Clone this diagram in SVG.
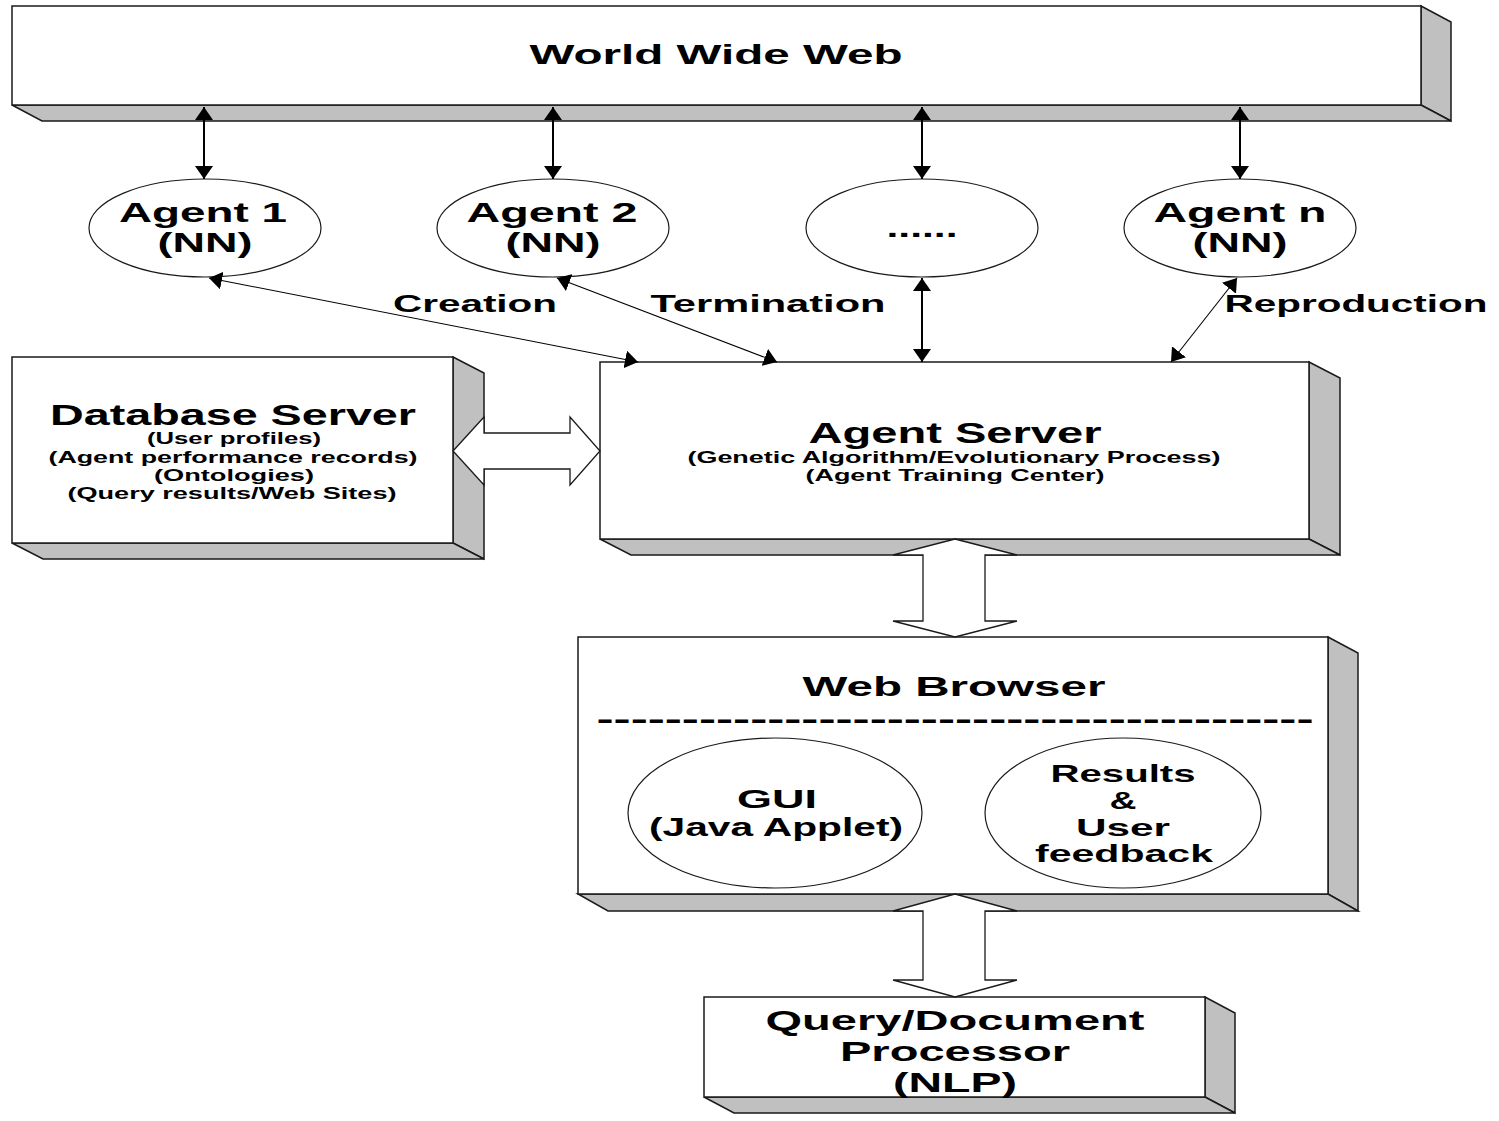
<svg xmlns="http://www.w3.org/2000/svg" width="1499" height="1121" viewBox="0 0 1499 1121">
  <defs>
    <style>
      .face { fill: #ffffff; stroke: #1a1a1a; stroke-width: 1.5; }
      .side { fill: #c0c0c0; stroke: #1a1a1a; stroke-width: 1.5; stroke-linejoin: miter; }
      .oval { fill: #ffffff; stroke: #1a1a1a; stroke-width: 1.2; }
      .hollow { fill: #ffffff; stroke: #1a1a1a; stroke-width: 1.3; stroke-linejoin: miter; }
      .link { fill: none; stroke: #000000; marker-start: url(#head); marker-end: url(#head); }
      .thick { stroke-width: 2; }
      .thin { stroke-width: 1.1; }
      text { font-family: "Liberation Sans", Arial, sans-serif; font-weight: bold; fill: #000000; text-anchor: middle; }
      .t30 { font-size: 30px; }
      .t28 { font-size: 28px; }
      .t26 { font-size: 26px; }
      .t24 { font-size: 24px; }
      .t16 { font-size: 16px; }
    </style>
    <marker id="head" viewBox="0 0 13 18" refX="13" refY="9" markerWidth="13" markerHeight="18" markerUnits="userSpaceOnUse" orient="auto-start-reverse">
      <path d="M0,0 L13,9 L0,18 Z" fill="#000000"/>
    </marker>
  </defs>

  <!-- World Wide Web -->
  <g id="www">
    <polygon class="side" points="1421,6 1451,22 1451,121 1421,105"/>
    <polygon class="side" points="12,105 1421,105 1451,121 42,121"/>
    <rect class="face" x="12" y="6" width="1409" height="99"/>
    <text class="t28" x="716" y="64" textLength="373" lengthAdjust="spacingAndGlyphs">World Wide Web</text>
  </g>

  <!-- Agents -->
  <g id="agent1">
    <ellipse class="oval" cx="205" cy="228" rx="116" ry="49"/>
    <text class="t28" x="203" y="222" textLength="168" lengthAdjust="spacingAndGlyphs">Agent 1</text>
    <text class="t28" x="205" y="252" textLength="95" lengthAdjust="spacingAndGlyphs">(NN)</text>
  </g>
  <g id="agent2">
    <ellipse class="oval" cx="553" cy="228" rx="116" ry="49"/>
    <text class="t28" x="552" y="222" textLength="171" lengthAdjust="spacingAndGlyphs">Agent 2</text>
    <text class="t28" x="553" y="252" textLength="95" lengthAdjust="spacingAndGlyphs">(NN)</text>
  </g>
  <g id="agent-more">
    <ellipse class="oval" cx="922" cy="228" rx="116" ry="49"/>
    <text class="t28" x="922" y="237" textLength="71" lengthAdjust="spacingAndGlyphs">......</text>
  </g>
  <g id="agentn">
    <ellipse class="oval" cx="1240" cy="228" rx="116" ry="49"/>
    <text class="t28" x="1240" y="222" textLength="173" lengthAdjust="spacingAndGlyphs">Agent n</text>
    <text class="t28" x="1240" y="252" textLength="95" lengthAdjust="spacingAndGlyphs">(NN)</text>
  </g>

  <!-- Database Server -->
  <g id="database">
    <polygon class="side" points="453,357 484,373 484,559 453,543"/>
    <polygon class="side" points="12,543 453,543 484,559 43,559"/>
    <rect class="face" x="12" y="357" width="441" height="186"/>
    <text class="t30" x="233" y="425" textLength="366" lengthAdjust="spacingAndGlyphs">Database Server</text>
    <text class="t16" x="234" y="444" textLength="174" lengthAdjust="spacingAndGlyphs">(User profiles)</text>
    <text class="t16" x="233" y="463" textLength="369" lengthAdjust="spacingAndGlyphs">(Agent performance records)</text>
    <text class="t16" x="234" y="481" textLength="160" lengthAdjust="spacingAndGlyphs">(Ontologies)</text>
    <text class="t16" x="232" y="499" textLength="329" lengthAdjust="spacingAndGlyphs">(Query results/Web Sites)</text>
  </g>

  <!-- Agent Server -->
  <g id="agent-server">
    <polygon class="side" points="1309,362 1340,378 1340,555 1309,539"/>
    <polygon class="side" points="600,539 1309,539 1340,555 631,555"/>
    <rect class="face" x="600" y="362" width="709" height="177"/>
    <text class="t30" x="955" y="443" textLength="293" lengthAdjust="spacingAndGlyphs">Agent Server</text>
    <text class="t16" x="954" y="463" textLength="533" lengthAdjust="spacingAndGlyphs">(Genetic Algorithm/Evolutionary Process)</text>
    <text class="t16" x="955" y="481" textLength="299" lengthAdjust="spacingAndGlyphs">(Agent Training Center)</text>
  </g>

  <!-- Web Browser -->
  <g id="web-browser">
    <polygon class="side" points="1328,637 1358,653 1358,911 1328,894"/>
    <polygon class="side" points="578,894 1328,894 1358,911 608,911"/>
    <rect class="face" x="578" y="637" width="750" height="257"/>
    <text class="t28" x="954" y="696" textLength="303" lengthAdjust="spacingAndGlyphs">Web Browser</text>
    <text class="t30" x="955" y="729" textLength="717" lengthAdjust="spacingAndGlyphs">------------------------------------------</text>
  </g>
  <g id="gui">
    <ellipse class="oval" cx="775" cy="813" rx="147" ry="75"/>
    <text class="t26" x="777" y="808" textLength="80" lengthAdjust="spacingAndGlyphs">GUI</text>
    <text class="t26" x="776" y="836" textLength="254" lengthAdjust="spacingAndGlyphs">(Java Applet)</text>
  </g>
  <g id="results">
    <ellipse class="oval" cx="1123" cy="813" rx="138" ry="75"/>
    <text class="t24" x="1123" y="782" textLength="145" lengthAdjust="spacingAndGlyphs">Results</text>
    <text class="t24" x="1123" y="809" textLength="27" lengthAdjust="spacingAndGlyphs">&amp;</text>
    <text class="t24" x="1123" y="836" textLength="94" lengthAdjust="spacingAndGlyphs">User</text>
    <text class="t24" x="1124" y="862" textLength="178" lengthAdjust="spacingAndGlyphs">feedback</text>
  </g>

  <!-- Query/Document Processor -->
  <g id="query-processor">
    <polygon class="side" points="1205,997 1235,1013 1235,1113 1205,1097"/>
    <polygon class="side" points="704,1097 1205,1097 1235,1113 734,1113"/>
    <rect class="face" x="704" y="997" width="501" height="100"/>
    <text class="t28" x="955" y="1030" textLength="379" lengthAdjust="spacingAndGlyphs">Query/Document</text>
    <text class="t28" x="955" y="1061" textLength="230" lengthAdjust="spacingAndGlyphs">Processor</text>
    <text class="t28" x="955" y="1092" textLength="124" lengthAdjust="spacingAndGlyphs">(NLP)</text>
  </g>

  <!-- Connectors -->
  <g id="connectors">
    <line class="link thick" x1="204" y1="107" x2="204" y2="179"/>
    <line class="link thick" x1="553" y1="107" x2="553" y2="179"/>
    <line class="link thick" x1="922" y1="107" x2="922" y2="179"/>
    <line class="link thick" x1="1240" y1="107" x2="1240" y2="179"/>

    <line class="link thin" x1="209" y1="278" x2="638" y2="362"/>
    <line class="link thin" x1="557" y1="278" x2="777" y2="362"/>
    <line class="link thick" x1="922" y1="278" x2="922" y2="362"/>
    <line class="link thin" x1="1237" y1="278" x2="1171" y2="362"/>

    <!-- block arrows -->
    <polygon class="hollow" points="453,451 484,417 484,433 570,433 570,417 600,451 570,485 570,469 484,469 484,485"/>
    <polygon class="hollow" points="955,539 1017,555 985,555 985,621 1017,621 955,637 893,621 923,621 923,555 893,555"/>
    <polygon class="hollow" points="955,894 1017,911 985,911 985,980 1017,980 955,997 893,980 923,980 923,911 893,911"/>

    <text class="t24" x="475" y="312" textLength="164" lengthAdjust="spacingAndGlyphs">Creation</text>
    <text class="t24" x="768" y="312" textLength="235" lengthAdjust="spacingAndGlyphs">Termination</text>
    <text class="t24" x="1356" y="312" textLength="263" lengthAdjust="spacingAndGlyphs">Reproduction</text>
  </g>
</svg>
